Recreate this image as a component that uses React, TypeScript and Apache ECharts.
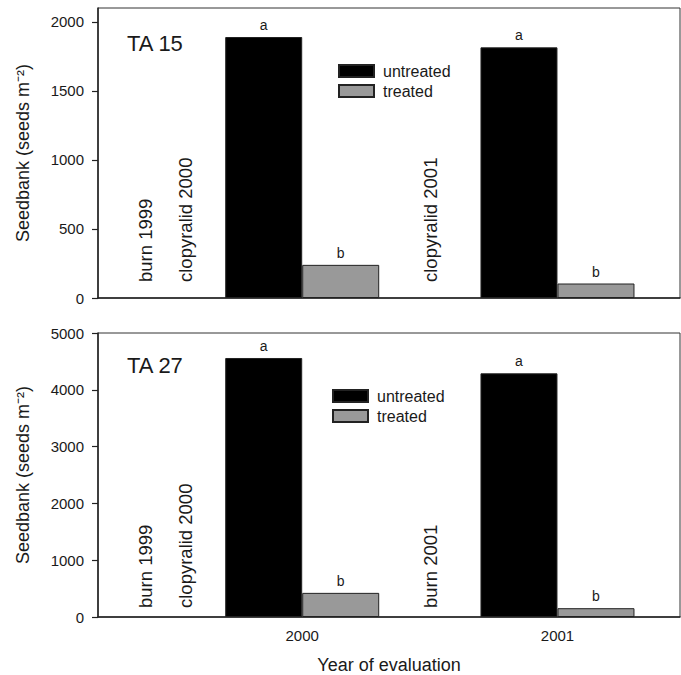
import React, { useEffect, useRef } from "react";
import * as echarts from "echarts";

const years = [2000, 2001];
const ta15Untreated = [1890, 1815];
const ta15Treated = [240, 105];
const ta27Untreated = [4560, 4290];
const ta27Treated = [425, 155];
const untreatedLetters = ["a", "a"];
const treatedLetters = ["b", "b"];
const ta15Ticks = [0, 500, 1000, 1500, 2000];
const ta27Ticks = [0, 1000, 2000, 3000, 4000, 5000];
const seriesNames = ["untreated", "treated"];

const FONT = "'Liberation Sans', Arial, Helvetica, sans-serif";
const TXT = "#1a1a1a";

export default function App() {
  const ref = useRef<HTMLDivElement>(null);
  useEffect(() => {
    if (!ref.current) return;
    const chart = echarts.init(ref.current, null, { renderer: "svg" });
    const pairs = (vals: number[]) => years.map((y, i) => [y, vals[i]]);
    const grids = [
      { left: 98, top: 8, width: 582, height: 290 },
      { left: 98, top: 333, width: 582, height: 290 },
    ];
    const xAxisBase = (gi: number) => ({
      type: "value",
      gridIndex: gi,
      min: 1999.2,
      max: 2001.48,
      splitLine: { show: false },
      axisLine: { show: true, onZero: false, lineStyle: { color: "#222", width: 1.5 } },
      axisTick: { show: false },
    });
    const yAxisBase = (gi: number, max: number, ticks: number[]) => ({
      type: "value",
      gridIndex: gi,
      min: 0,
      max,
      splitLine: { show: false },
      axisLine: { show: true, lineStyle: { color: "#222", width: 1.5 } },
      axisTick: { show: true, length: 6, customValues: ticks, lineStyle: { color: "#222", width: 1.2 } },
      axisLabel: {
        customValues: ticks,
        fontSize: 15,
        color: TXT,
        fontFamily: FONT,
        margin: 14,
        formatter: (v: number) => String(v),
      },
      name: "Seedbank (seeds m\u207B\u00B2)",
      nameLocation: "middle",
      nameGap: 66,
      nameTextStyle: { fontSize: 18, color: TXT, fontFamily: FONT },
    });
    const barSeries = (name: string, gi: number, vals: number[], letters: string[], color: string) => ({
      type: "bar",
      name,
      xAxisIndex: gi,
      yAxisIndex: gi,
      data: pairs(vals),
      barWidth: 77,
      barGap: "0%",
      itemStyle: { color, borderColor: "#222", borderWidth: 1 },
      label: {
        show: true,
        position: "top",
        distance: 5,
        fontSize: 14,
        color: TXT,
        fontFamily: FONT,
        formatter: (p: any) => letters[p.dataIndex],
      },
    });
    const vtext = (x: number, y: number, text: string) => ({
      type: "text",
      x,
      y,
      rotation: Math.PI / 2,
      style: { text, fontSize: 18.5, fill: TXT, fontFamily: FONT, textAlign: "left", textVerticalAlign: "middle" },
    });
    const legendBase = (left: number, top: number) => ({
      left,
      top,
      padding: 0,
      orient: "vertical",
      data: seriesNames,
      itemWidth: 35,
      itemHeight: 12,
      itemGap: 4,
      icon: "rect",
      selectedMode: false,
      textStyle: { fontSize: 16, color: TXT, fontFamily: FONT, padding: [0, 0, 0, 4] },
    });
    chart.setOption({
      animation: false,
      backgroundColor: "#fff",
      grid: grids.map((g) => ({ ...g, show: true, borderColor: "#333", borderWidth: 1, backgroundColor: "transparent" })),
      legend: [legendBase(338, 63), legendBase(332, 388)],
      xAxis: [
        { ...xAxisBase(0), axisLabel: { show: false } },
        {
          ...xAxisBase(1),
          axisLabel: {
            customValues: years,
            fontSize: 15,
            color: TXT,
            fontFamily: FONT,
            margin: 11,
            formatter: (v: number) => String(v),
          },
          name: "Year of evaluation",
          nameLocation: "middle",
          nameGap: 39,
          nameTextStyle: { fontSize: 18, color: TXT, fontFamily: FONT },
        },
      ],
      yAxis: [yAxisBase(0, 2100, ta15Ticks), yAxisBase(1, 5000, ta27Ticks)],
      series: [
        barSeries("untreated", 0, ta15Untreated, untreatedLetters, "#000"),
        barSeries("treated", 0, ta15Treated, treatedLetters, "#999"),
        barSeries("untreated", 1, ta27Untreated, untreatedLetters, "#000"),
        barSeries("treated", 1, ta27Treated, treatedLetters, "#999"),
      ],
      graphic: [
        { type: "text", x: 127, y: 43, style: { text: "TA 15", fontSize: 22, fill: TXT, fontFamily: FONT, textVerticalAlign: "middle" } },
        { type: "text", x: 127, y: 365, style: { text: "TA 27", fontSize: 22, fill: TXT, fontFamily: FONT, textVerticalAlign: "middle" } },
        vtext(145, 282, "burn 1999"),
        vtext(185, 282, "clopyralid 2000"),
        vtext(430, 282, "clopyralid 2001"),
        vtext(145, 608, "burn 1999"),
        vtext(185, 608, "clopyralid 2000"),
        vtext(430, 608, "burn 2001"),
      ],
    });
    return () => chart.dispose();
  }, []);
  return <div ref={ref} style={{ width: 681, height: 675, position: "absolute", left: 0, top: 0 }} />;
}
